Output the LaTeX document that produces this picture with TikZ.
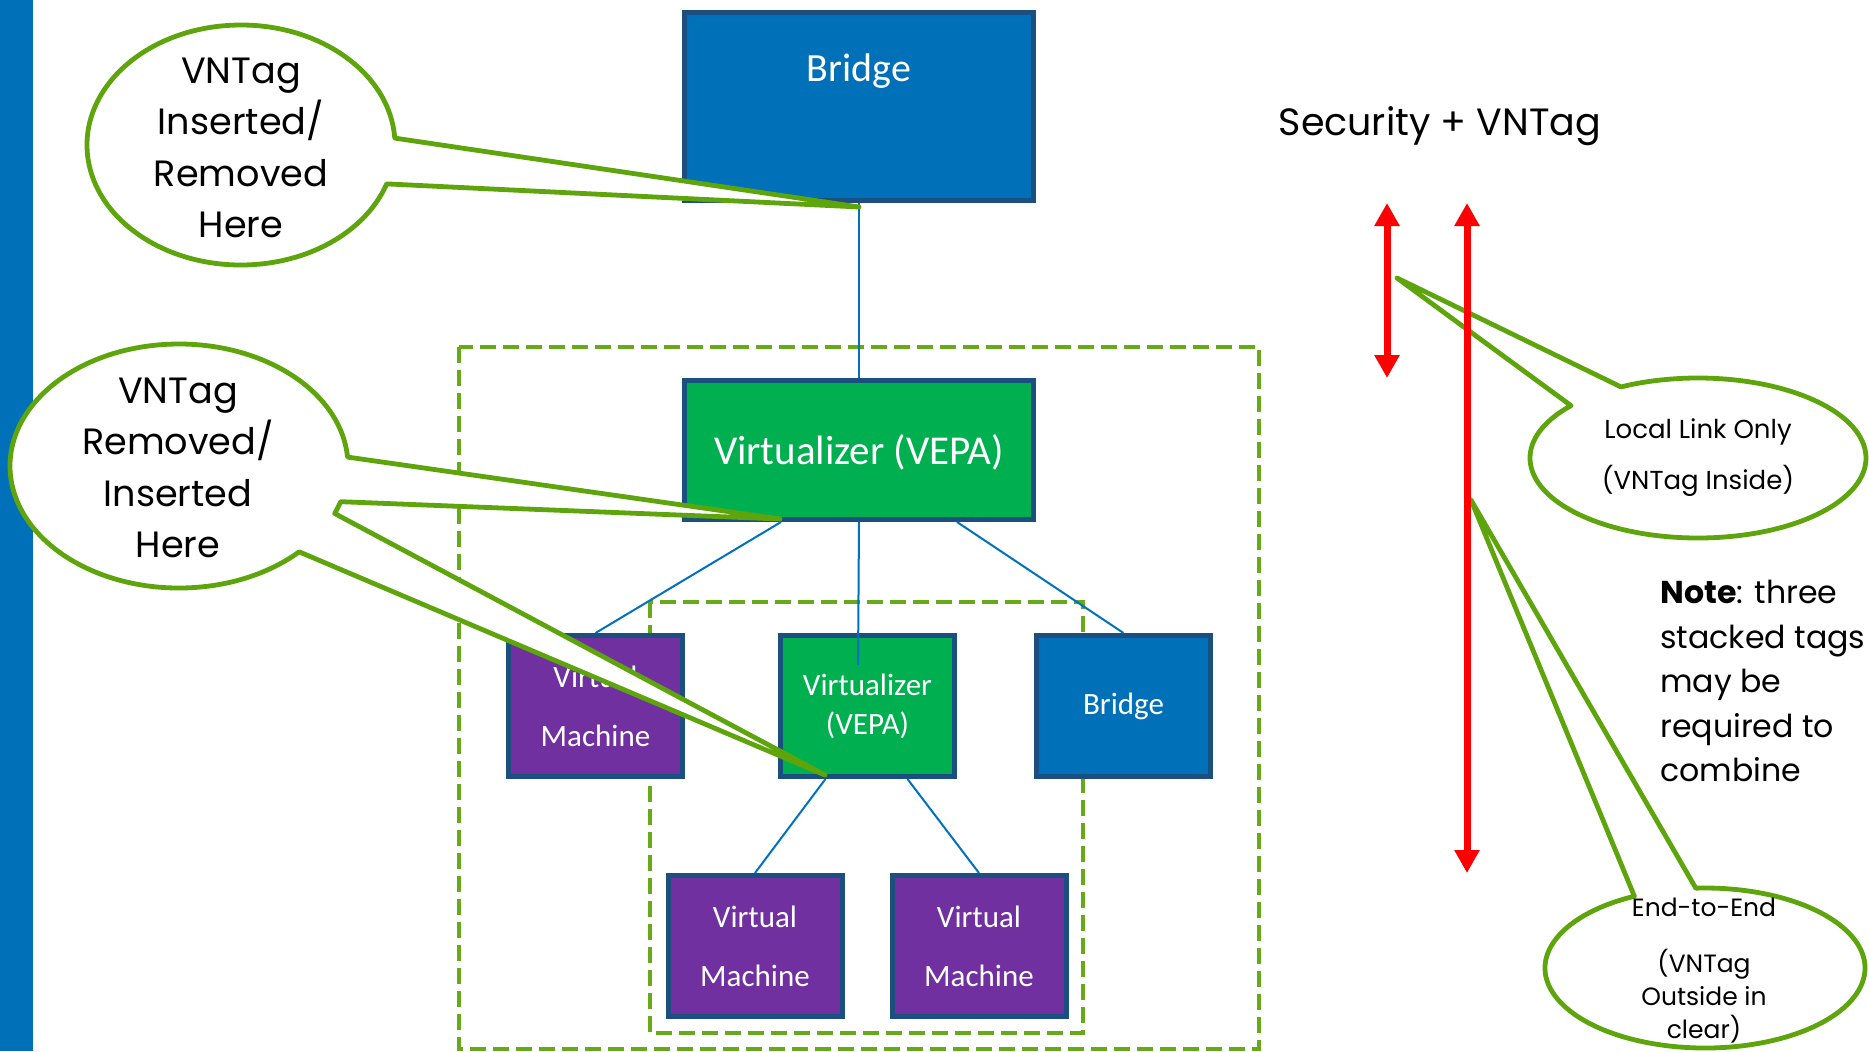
\documentclass[tikz,border=0pt]{standalone}
\usepackage{fontspec}
\setmainfont{Carlito}
\newfontfamily\futfont{Poppins}
\usetikzlibrary{arrows.meta}
\definecolor{boxblue}{HTML}{0070B8}
\definecolor{boxedge}{HTML}{1B4F80}
\definecolor{vgreen}{HTML}{00B050}
\definecolor{vpurple}{HTML}{7030A0}
\definecolor{cgreen}{HTML}{5EA40C}
\definecolor{dgreen}{HTML}{66AA1A}
\definecolor{linkblue}{HTML}{0070C0}
\definecolor{arrowred}{HTML}{FF0000}
\begin{document}
\begin{tikzpicture}[x=0.5pt,y=-0.5pt,
  box/.style={draw=boxedge, line width=2.5pt, inner sep=0pt, text=white, align=center},
  bigbox/.style={box, minimum width=174.5pt},
  smallbox/.style={box, minimum width=87pt, minimum height=70.5pt},
  bluefill/.style={fill=boxblue},
  greenfill/.style={fill=vgreen},
  purplefill/.style={fill=vpurple},
  link/.style={draw=linkblue, line width=1pt},
  dashbox/.style={draw=dgreen, line width=2.2pt, dash pattern=on 8pt off 3.5pt},
  callout/.style={draw=cgreen, line width=2.4pt, fill=white, line join=round},
  ctext/.style={inner sep=0pt, align=center, text=black},
  redarrow/.style={draw=arrowred, line width=3.5pt, {Triangle[width=12pt,length=11.5pt]}-{Triangle[width=12pt,length=11.5pt]}},
  vmfont/.style={font=\fontsize{15.5}{29.5}\selectfont},
  smfont/.style={font=\fontsize{15.5}{19.5}\selectfont}
]
\useasboundingbox (0,0) rectangle (1869,1051);
\fill[white] (0,0) rectangle (1869,1051);
% left bar
\fill[boxblue] (0,0) rectangle (33,1051);

% dashed groups
\draw[dashbox] (459,347) rectangle (1259,1049);
\draw[dashbox] (650,602) rectangle (1083,1033);

% boxes
\node[bigbox, bluefill, minimum height=94pt] (bridge) at (859,106.5) {};
\node[font=\fontsize{20}{24}\selectfont, text=white, inner sep=0pt] (bridgetext) at (859,71.5) {Bridge};
\node[bigbox, greenfill, minimum height=69.5pt] (vepa) at (859,450) {};
\node[font=\fontsize{20.5}{24}\selectfont, text=white, inner sep=0pt] (vepatext) at (859,452.5) {Virtualizer (VEPA)};
\node[smallbox, purplefill, vmfont] (vm1) at (595.5,706) {Virtual\\Machine};
\node[smallbox, greenfill, smfont] (vepa2) at (867.5,706) {Virtualizer\\(VEPA)};
\node[smallbox, bluefill, smfont] (bridge2) at (1123.5,706) {Bridge};
\node[smallbox, purplefill, vmfont] (vm2) at (755,946) {Virtual\\Machine};
\node[smallbox, purplefill, vmfont] (vm3) at (979,946) {Virtual\\Machine};

% connectors
\draw[link] (bridge.south) -- (vepa.north);
\draw[link] ([xshift=-39pt]vepa.south) -- (vm1.north);
\coordinate (vend) at (858,665);
\draw[link] (vepa.south) -- (vend);
\draw[link] ([xshift=49pt]vepa.south) -- (bridge2.north);
\draw[link] ([xshift=-21pt]vepa2.south) -- (vm2.north);
\draw[link] ([xshift=20pt]vepa2.south) -- (vm3.north);

% callout 1
\coordinate (c1) at (241,145);
\coordinate (tip1) at (859,207);
\draw[callout] (tip1) -- ([shift={(3.3:77pt and 60pt)}]c1) arc[start angle=3.3, end angle=341.1, x radius=77pt, y radius=60pt] -- cycle;
\node[ctext, font=\futfont\fontsize{18.3}{25.75}\selectfont] (t1) at (241,148) {VNTag\\Inserted/\\Removed\\Here};

% callout 2
\coordinate (c2) at (179,466);
\coordinate (tip2a) at (780,519);
\coordinate (tip2b) at (825,775);
\draw[callout] (tip2a) -- ([shift={(4.2:84.5pt and 61pt)}]c2) arc[start angle=4.2, end angle=315.3, x radius=84.5pt, y radius=61pt] -- (tip2b) -- ([shift={(-22.9:84.5pt and 61pt)}]c2) arc[start angle=-22.9, end angle=-17, x radius=84.5pt, y radius=61pt] -- cycle;
\node[ctext, font=\futfont\fontsize{18.3}{25.75}\selectfont] (t2) at (178,468) {VNTag\\Removed/\\Inserted\\Here};

% callout 3
\coordinate (c3) at (1698,458);
\coordinate (tip3) at (1397,278);
\draw[callout] (tip3) -- ([shift={(139.1:84pt and 40pt)}]c3) arc[start angle=139.1, end angle=477.3, x radius=84pt, y radius=40pt] -- cycle;
\node[ctext, font=\futfont\fontsize{13}{25.5}\selectfont] (t3) at (1698,458) {Local Link Only\\(VNTag Inside)};

% callout 4
\coordinate (c4) at (1705,968);
\coordinate (tip4) at (1471,500);
\draw[callout] (tip4) -- ([shift={(116.2:80pt and 40pt)}]c4) arc[start angle=116.2, end angle=453.3, x radius=80pt, y radius=40pt] -- cycle;
\node[ctext, font=\futfont\fontsize{12.5}{16.5}\selectfont] (t4) at (1704,971) {End-to-End\\[11.5pt](VNTag\\Outside in\\clear)};

% texts
\node[font=\futfont\fontsize{19}{23}\selectfont, inner sep=0pt] (sec) at (1440,126) {Security + VNTag};
\node[font=\futfont\fontsize{15.8}{22.25}\selectfont, align=left, anchor=west, inner sep=0pt] (note) at (1660,681) {\textbf{Note}: three\\stacked tags\\may be\\required to\\combine};

% red arrows
\coordinate (a1top) at (1387,203);
\coordinate (a1bot) at (1387,378);
\coordinate (a2top) at (1467,203);
\coordinate (a2bot) at (1467,873);
\draw[redarrow] (a1top) -- (a1bot);
\draw[redarrow] (a2top) -- (a2bot);
\end{tikzpicture}
\end{document}
